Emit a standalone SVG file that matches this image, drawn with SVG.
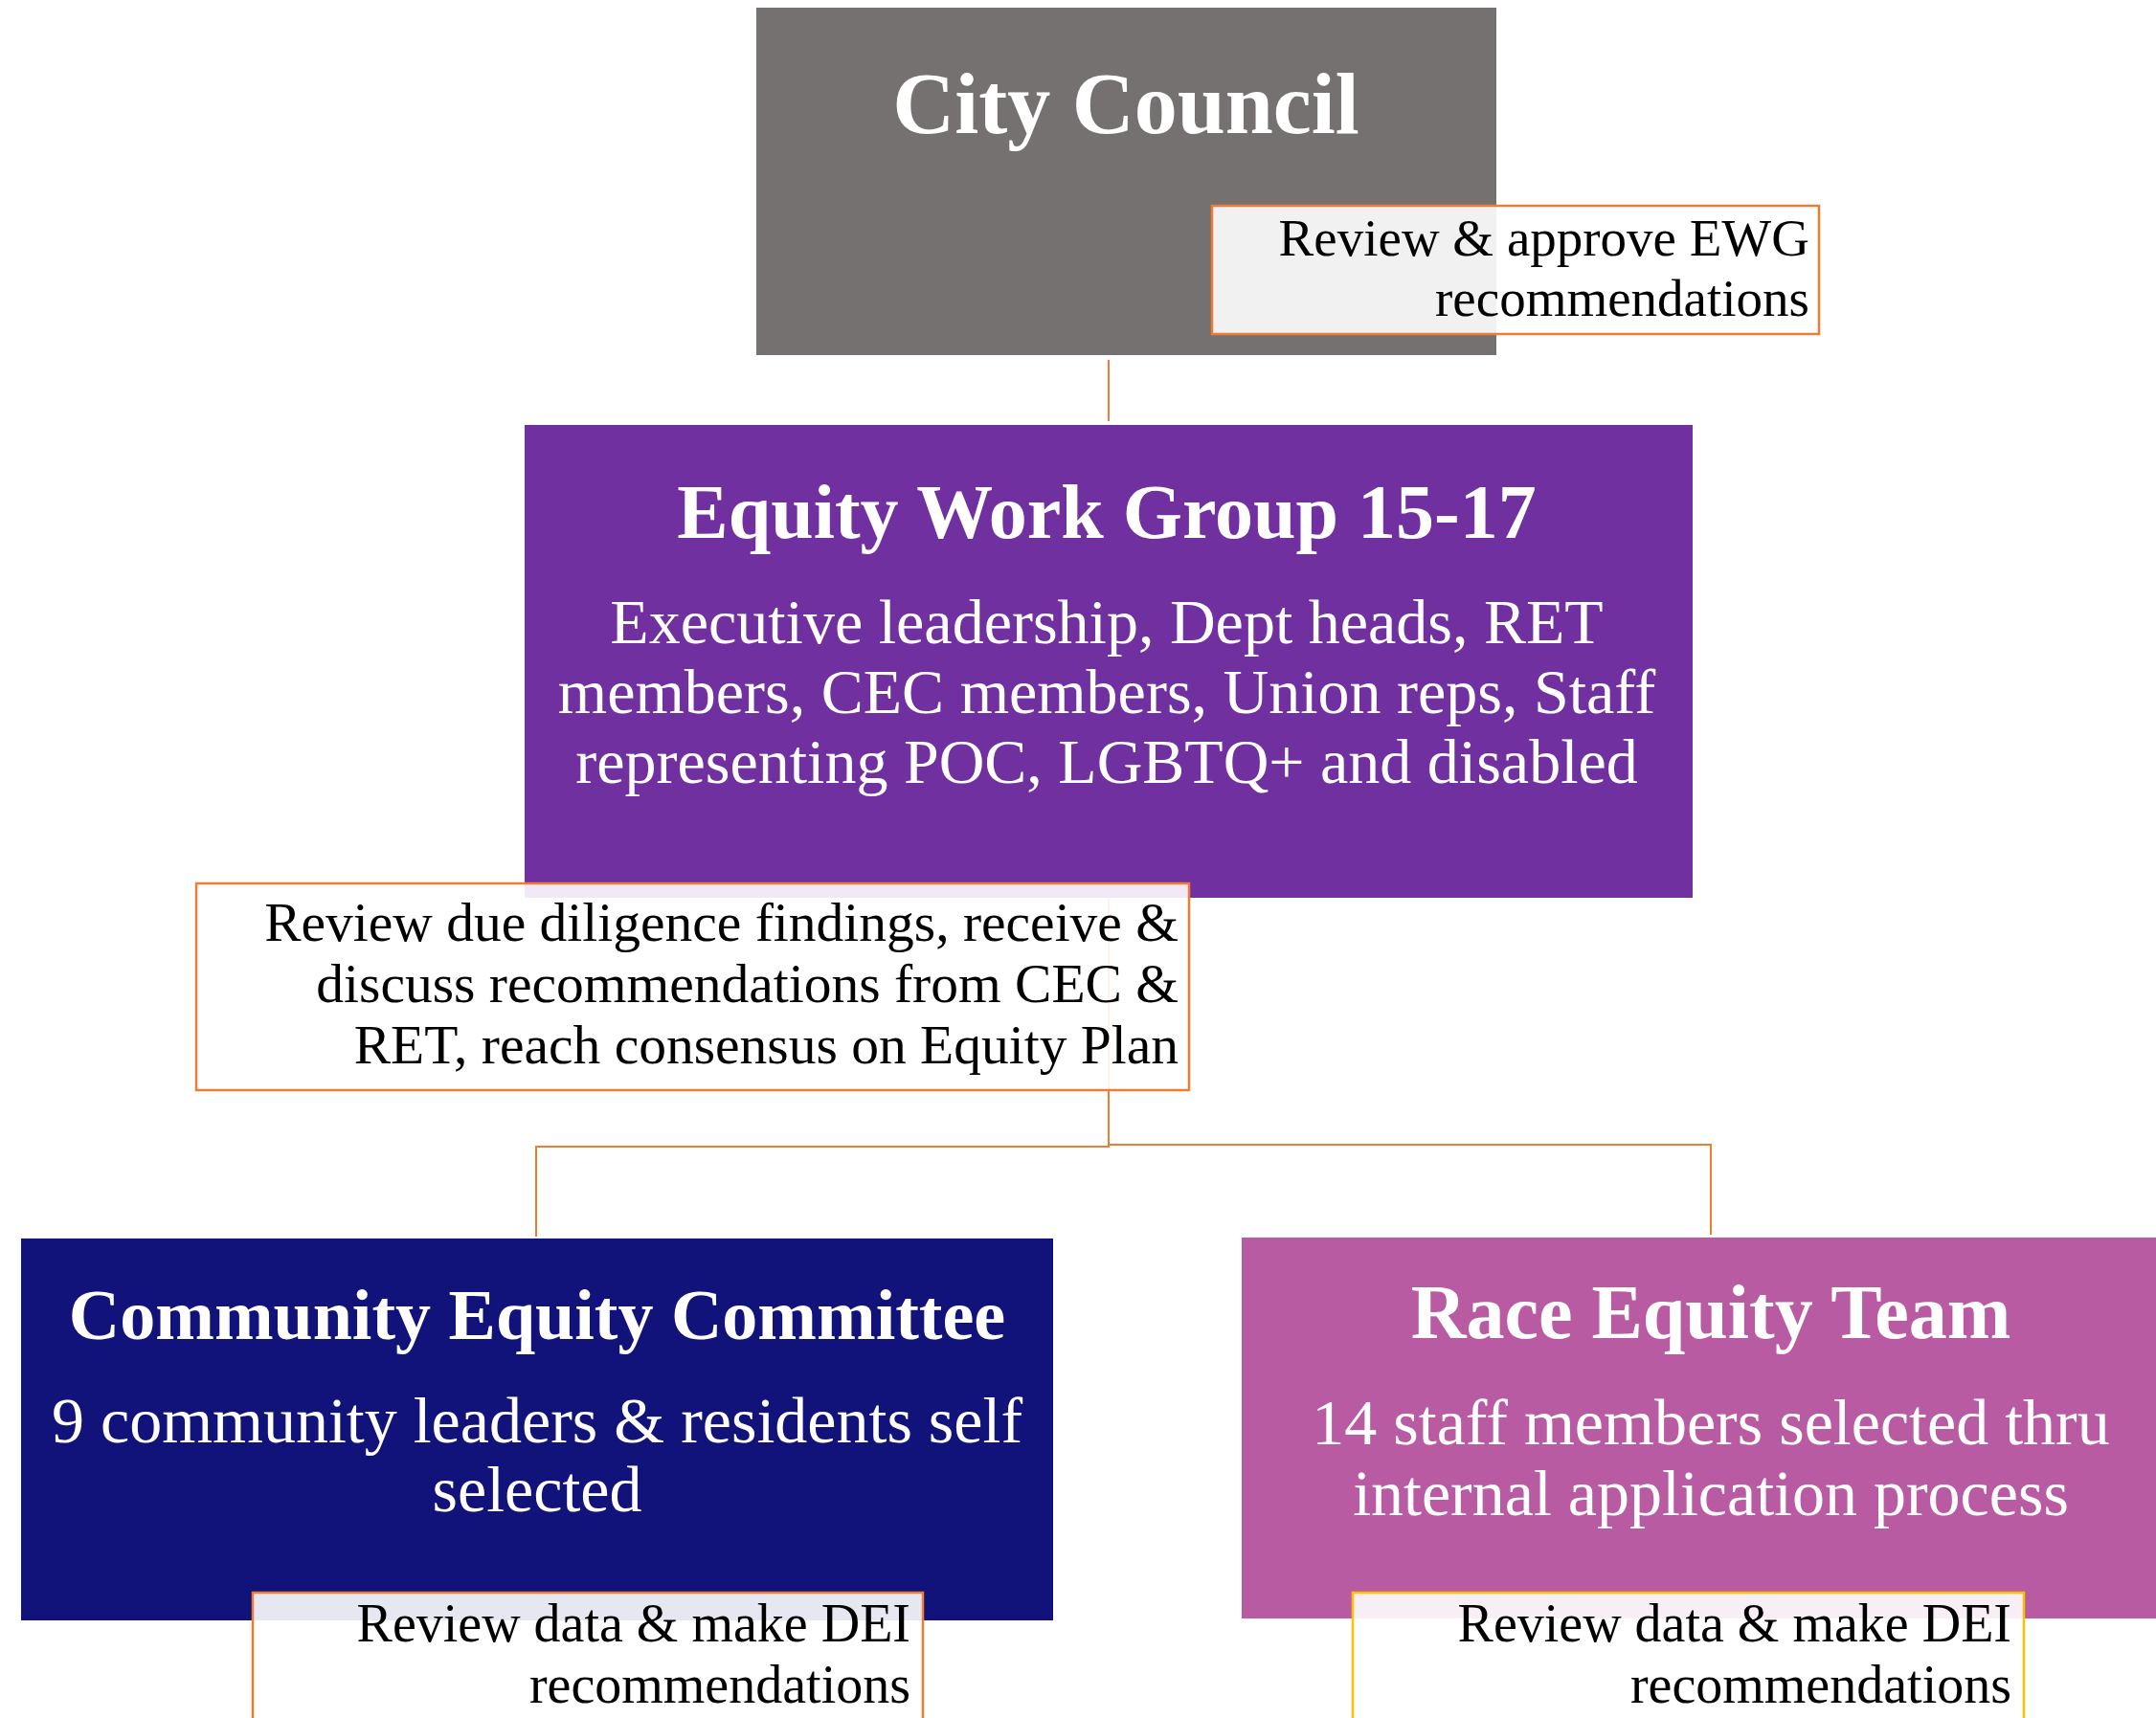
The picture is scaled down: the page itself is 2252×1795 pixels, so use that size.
<svg xmlns="http://www.w3.org/2000/svg" width="2252" height="1795" viewBox="0 0 2252 1795">
<style>
text{font-family:"Liberation Serif","Times New Roman",serif}
.title{font-weight:bold;fill:#fff;text-anchor:middle}
.body{fill:#fff;text-anchor:middle}
.call{fill:#000;text-anchor:end}
.cbox{fill:#fff;fill-opacity:0.9;stroke:#ed7d31;stroke-width:2.5}
.conn{fill:none;stroke:#ed7d31;stroke-width:2}
</style>
<rect width="2252" height="1795" fill="#fff"/>
<g id="connectors">
<path class="conn" d="M1158 376 V440"/>
<path class="conn" d="M1158 938 V1198 H560 V1292"/>
<path class="conn" d="M1158 1196 H1787 V1290"/>
</g>
<g id="city-council">
<rect x="790" y="8" width="773" height="363" fill="#767171"/>
<text class="title" x="1176" y="139" font-size="90">City Council</text>
</g>
<g id="city-council-note">
<rect class="cbox" x="1266" y="215" width="634" height="134"/>
<text class="call" x="1890" y="267" font-size="55">Review &amp; approve EWG</text>
<text class="call" x="1890" y="330" font-size="55">recommendations</text>
</g>
<g id="equity-work-group">
<rect x="548" y="444" width="1220" height="494" fill="#7030a0"/>
<text class="title" x="1156" y="562" font-size="80">Equity Work Group 15-17</text>
<text class="body" x="1156" y="672" font-size="66">Executive leadership, Dept heads, RET</text>
<text class="body" x="1156" y="745" font-size="66">members, CEC members, Union reps, Staff</text>
<text class="body" x="1156" y="818" font-size="66">representing POC, LGBTQ+ and disabled</text>
</g>
<g id="equity-work-group-note">
<rect class="cbox" x="205" y="923" width="1037" height="216"/>
<text class="call" x="1231" y="983" font-size="57.5">Review due diligence findings, receive &amp;</text>
<text class="call" x="1231" y="1047" font-size="57.5">discuss recommendations from CEC &amp;</text>
<text class="call" x="1231" y="1111" font-size="57.5">RET, reach consensus on Equity Plan</text>
</g>
<g id="community-equity-committee">
<rect x="22" y="1294" width="1078" height="399" fill="#11127a"/>
<text class="title" x="561" y="1399" font-size="74">Community Equity Committee</text>
<text class="body" x="561" y="1507" font-size="68">9 community leaders &amp; residents self</text>
<text class="body" x="561" y="1579" font-size="68">selected</text>
</g>
<g id="community-equity-committee-note">
<rect class="cbox" x="264" y="1664" width="700" height="140"/>
<text class="call" x="951" y="1715" font-size="56">Review data &amp; make DEI</text>
<text class="call" x="951" y="1779" font-size="56">recommendations</text>
</g>
<g id="race-equity-team">
<rect x="1297" y="1293" width="990" height="398" fill="#b95ba3"/>
<text class="title" x="1787" y="1398" font-size="80">Race Equity Team</text>
<text class="body" x="1787" y="1509" font-size="68">14 staff members selected thru</text>
<text class="body" x="1787" y="1583" font-size="68">internal application process</text>
</g>
<g id="race-equity-team-note">
<rect class="cbox" x="1413" y="1664" width="701" height="140" style="stroke:#ffc000"/>
<text class="call" x="2101" y="1715" font-size="56">Review data &amp; make DEI</text>
<text class="call" x="2101" y="1779" font-size="56">recommendations</text>
</g>
</svg>
